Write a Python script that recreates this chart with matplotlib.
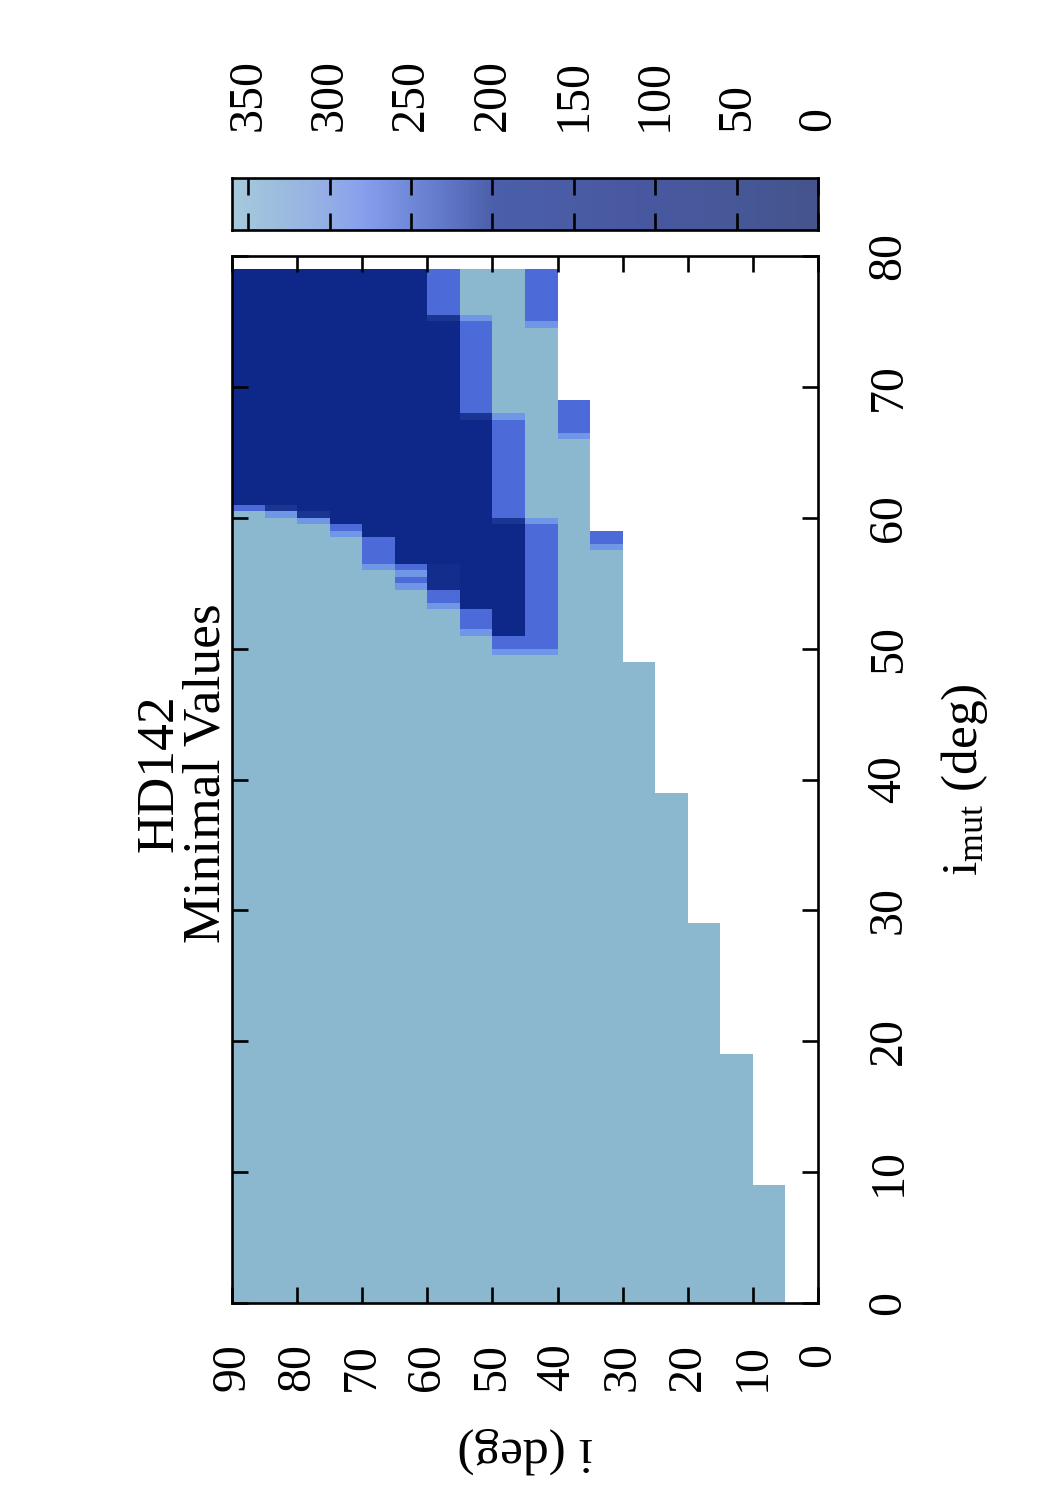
import numpy as np
import matplotlib
matplotlib.use("Agg")
import matplotlib.pyplot as plt
from matplotlib.colors import LinearSegmentedColormap, Normalize

plt.rcParams['font.family'] = ['Liberation Serif', 'DejaVu Serif']
plt.rcParams['mathtext.fontset'] = 'custom'
plt.rcParams['mathtext.rm'] = 'Liberation Serif'
plt.rcParams['mathtext.it'] = 'Liberation Serif:italic'

# ---------------- data ----------------
title_text = "HD142\nMinimal Values"
imut_label = r"i$_{\mathrm{mut}}$ (deg)"
i_label = "i (deg)"

i_ticks = [0, 10, 20, 30, 40, 50, 60, 70, 80, 90]
imut_ticks = [0, 10, 20, 30, 40, 50, 60, 70, 80]
cbar_ticks = [0, 50, 100, 150, 200, 250, 300, 350]

i_edges = [0, 5, 10, 15, 20, 25, 30, 35, 40, 45, 50, 55, 60, 65, 70, 75, 80, 85, 90]
imut_step = 0.5
imut_max = 79.0

# segments: column lower i edge, i_mut from, i_mut to, minimal value
seg_i = [85, 85, 85,
         80, 80, 80, 80,
         75, 75, 75, 75,
         70, 70, 70, 70,
         65, 65, 65, 65,
         60, 60, 60, 60, 60, 60,
         55, 55, 55, 55, 55, 55, 55,
         50, 50, 50, 50, 50, 50, 50, 50,
         45, 45, 45, 45, 45, 45, 45, 45,
         40, 40, 40, 40, 40, 40, 40,
         35, 35, 35,
         30, 30, 30,
         25, 20, 15, 10, 5]
seg_lo = [61.0, 60.5, 0,
          61.0, 60.5, 60.0, 0,
          60.5, 60.0, 59.5, 0,
          59.5, 59.0, 58.5, 0,
          58.5, 56.5, 56.0, 0,
          56.5, 56.0, 55.5, 55.0, 54.5, 0,
          75.5, 75.0, 56.5, 54.5, 53.5, 53.0, 0,
          75.5, 75.0, 68.0, 67.5, 53.0, 51.5, 51.0, 0,
          68.0, 67.5, 60.0, 59.5, 51.0, 50.0, 49.5, 0,
          75.0, 74.5, 60.0, 59.5, 50.0, 49.5, 0,
          66.5, 66.0, 0,
          58.0, 57.5, 0,
          0, 0, 0, 0, 0]
seg_hi = [79.0, 61.0, 60.5,
          79.0, 61.0, 60.5, 60.0,
          79.0, 60.5, 60.0, 59.5,
          79.0, 59.5, 59.0, 58.5,
          79.0, 58.5, 56.5, 56.0,
          79.0, 56.5, 56.0, 55.5, 55.0, 54.5,
          79.0, 75.5, 75.0, 56.5, 54.5, 53.5, 53.0,
          79.0, 75.5, 75.0, 68.0, 67.5, 53.0, 51.5, 51.0,
          79.0, 68.0, 67.5, 60.0, 59.5, 51.0, 50.0, 49.5,
          79.0, 75.0, 74.5, 60.0, 59.5, 50.0, 49.5,
          69.0, 66.5, 66.0,
          59.0, 58.0, 57.5,
          49.0, 39.0, 29.0, 19.0, 9.0]
seg_val = [15, 215, 345,
           15, 60, 285, 345,
           15, 60, 285, 345,
           15, 215, 285, 345,
           15, 215, 285, 345,
           15, 215, 285, 215, 285, 345,
           215, 60, 15, 35, 215, 285, 345,
           345, 285, 215, 60, 15, 215, 285, 345,
           345, 285, 215, 60, 15, 215, 285, 345,
           215, 285, 345, 285, 215, 285, 345,
           215, 285, 345,
           215, 285, 345,
           345, 345, 345, 345, 345]

# colour maps
data_nodes = [0, 15, 35, 60, 215, 285, 345, 360]
data_colors = ["#0b2686", "#0d2888", "#132d8d", "#1a3592", "#4c6bd8", "#7096e6", "#8bb8cf", "#8bb8cf"]
cbar_nodes = [0, 50, 100, 150, 200, 225, 250, 280, 300, 330, 360]
cbar_colors = ["#45548c", "#475898", "#4858a0", "#4a5ca4", "#4b5faa", "#5f74c4",
               "#7088d8", "#889fee", "#93ade6", "#9cbcdf", "#a6c9dc"]
vmin, vmax = 0, 360

# ---------------- build grid ----------------
imut_edges = np.arange(0, imut_max + imut_step / 2, imut_step)
centers = 0.5 * (imut_edges[:-1] + imut_edges[1:])
Z = np.full((len(centers), len(i_edges) - 1), np.nan)
for il, lo, hi, v in zip(seg_i, seg_lo, seg_hi, seg_val):
    col = i_edges.index(il)
    rows = (centers > lo) & (centers < hi)
    Z[rows, col] = v

data_cmap = LinearSegmentedColormap.from_list(
    "data", [(n / vmax, c) for n, c in zip(data_nodes, data_colors)])
cbar_cmap = LinearSegmentedColormap.from_list(
    "cbar", [(n / vmax, c) for n, c in zip(cbar_nodes, cbar_colors)])
norm = Normalize(vmin, vmax)

W, H = 1050, 1500
fig = plt.figure(figsize=(W / 100, H / 100), dpi=100)

def frac(x0, y0, x1, y1):
    return [x0 / W, 1 - y1 / H, (x1 - x0) / W, (y1 - y0) / H]

FS = 34.5
LFS = 37
LW = 1.9

ax = fig.add_axes(frac(232, 256, 818, 1303))
ax.pcolormesh(i_edges, imut_edges, np.ma.masked_invalid(Z), cmap=data_cmap, norm=norm,
              shading='flat', antialiased=False, linewidth=0)
ax.set_xlim(90, 0)
ax.set_ylim(0, 80)
ax.set_xticks(i_ticks)
ax.set_yticks(imut_ticks)
for s in ax.spines.values():
    s.set_linewidth(LW)
ax.tick_params(axis='both', direction='in', length=11.5, width=LW,
               top=True, bottom=True, left=True, right=True, labelsize=FS)
ax.tick_params(axis='x', labelrotation=90, pad=29)
ax.tick_params(axis='y', labelleft=False, labelright=True, labelrotation=90, pad=35)
for lab in ax.get_yticklabels():
    lab.set_va('center')
    lab.set_ha('left')

cax = fig.add_axes(frac(232, 178, 818, 230))
grad = np.linspace(vmin, vmax, 721)
cax.imshow(grad[None, :], extent=[vmin, vmax, 0, 1], aspect='auto', cmap=cbar_cmap, norm=norm)
cax.set_xlim(vmax, vmin)
cax.set_ylim(0, 1)
cax.set_yticks([])
cax.set_xticks(cbar_ticks)
for s in cax.spines.values():
    s.set_linewidth(LW)
cax.tick_params(axis='x', direction='in', length=12, width=LW, top=True, bottom=True,
                labelbottom=False, labeltop=True, labelrotation=90, pad=34, labelsize=FS)

fig.text(183 / W, 1 - 773 / H, title_text, rotation=90, ha='center', va='center',
         multialignment='center', fontsize=38.5, linespacing=1.0)
fig.text(965 / W, 1 - 780 / H, imut_label, rotation=90, ha='center', va='center', fontsize=LFS)
fig.text(525 / W, 1 - 1450 / H, i_label, rotation=180, ha='center', va='center', fontsize=LFS)

fig.savefig("out.png", dpi=100)
